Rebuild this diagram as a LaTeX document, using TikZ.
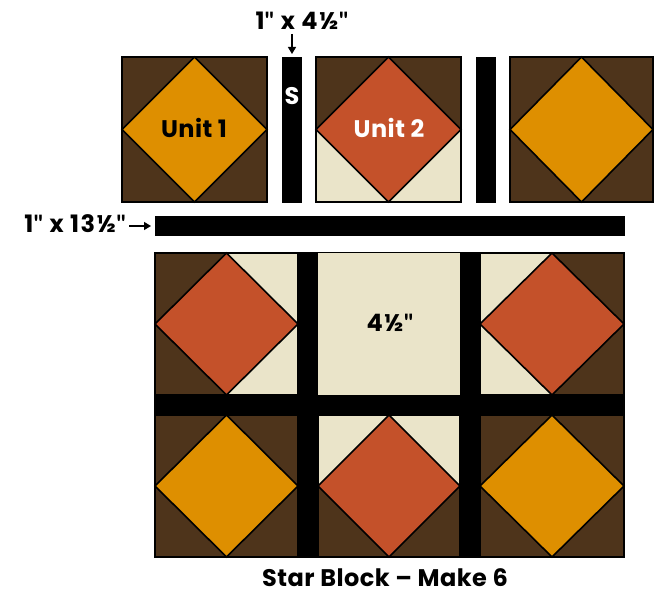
\documentclass[tikz,border=0pt]{standalone}
\usepackage{fontspec}
\setmainfont{Poppins}
\newfontfamily\qf{Lato}
\newcommand\inch{{\qf\bfseries"}}
\usetikzlibrary{arrows.meta}
\definecolor{brn}{HTML}{4E341B}
\definecolor{org}{HTML}{DE8F00}
\definecolor{rst}{HTML}{C4512A}
\definecolor{crm}{HTML}{EAE4C9}
% x y w h tl tr bl br diamond
\newcommand\qblk[9]{%
  \fill[#5] (#1,#2) -- (#1+#3/2,#2) -- (#1,#2+#4/2) -- cycle;
  \fill[#6] (#1+#3,#2) -- (#1+#3/2,#2) -- (#1+#3,#2+#4/2) -- cycle;
  \fill[#7] (#1,#2+#4) -- (#1+#3/2,#2+#4) -- (#1,#2+#4/2) -- cycle;
  \fill[#8] (#1+#3,#2+#4) -- (#1+#3/2,#2+#4) -- (#1+#3,#2+#4/2) -- cycle;
  \filldraw[fill=#9,diam] (#1+#3/2,#2) -- (#1+#3,#2+#4/2) -- (#1+#3/2,#2+#4) -- (#1,#2+#4/2) -- cycle;
  \draw[outl] (#1,#2) rectangle (#1+#3,#2+#4);}
\tikzset{
  diam/.style={draw=black,line width=1.6pt,line join=miter},
  outl/.style={draw=black,line width=1.6pt},
  sash/.style={fill=black},
  lbl/.style={font=\bfseries\fontsize{24}{26}\selectfont\addfontfeatures{LetterSpace=2},inner sep=0pt,anchor=base,text depth=0pt},
  dim/.style={font=\bfseries\fontsize{24}{26}\selectfont\addfontfeatures{LetterSpace=6},inner sep=0pt,anchor=base,text depth=0pt},
  arr/.style={-{Triangle[length=7pt,width=8pt]},line width=1.4pt}
}
\begin{document}
\begin{tikzpicture}[x=1pt,y=-1pt]
\useasboundingbox (0,0) rectangle (654,594);
\fill[white] (0,0) rectangle (654,594);
% top row
\qblk{122}{57}{145}{145}{brn}{brn}{brn}{brn}{org}
\fill[sash] (282,57) rectangle (302,203);
\coordinate (stop) at (292,54);
\qblk{316}{57}{145}{145}{brn}{brn}{crm}{crm}{rst}
\fill[sash] (476,57) rectangle (496,203);
\qblk{510}{57}{143}{145}{brn}{brn}{brn}{brn}{org}
\node[lbl] (u1) at (194,138) {Unit 1};
\node[lbl,text=white] (u2) at (389,138) {Unit 2};
\node[lbl,text=white] (s) at (292,105) {S};
% long sash
\fill[sash] (155,216) rectangle (625,236);
\coordinate (lleft) at (151,226);
% grid
\fill[black] (154,252) rectangle (625,558);
\qblk{155}{253}{143}{142}{brn}{crm}{brn}{crm}{rst}
\fill[crm] (318,253) rectangle (460,395);
\qblk{480}{253}{144}{142}{crm}{brn}{crm}{brn}{rst}
\qblk{155}{415}{143}{142}{brn}{brn}{brn}{brn}{org}
\qblk{318}{415}{142}{142}{crm}{crm}{brn}{brn}{rst}
\qblk{480}{415}{144}{142}{brn}{brn}{brn}{brn}{org}
\node[dim] (c) at (390,331) {4½\inch};
% dimension labels
\node[dim] (d1) at (302,30) {1\inch{} x 4½\inch};
\coordinate (d1a) at (292,34);
\draw[arr] (d1a) -- (stop);
\node[dim,anchor=base east] (d2) at (126,232) {1\inch{} x 13½\inch};
\coordinate (d2a) at (129,226);
\draw[arr] (d2a) -- (lleft);
% caption
\node[lbl] (cap) at (385,586) {Star Block – Make 6};
\end{tikzpicture}
\end{document}
